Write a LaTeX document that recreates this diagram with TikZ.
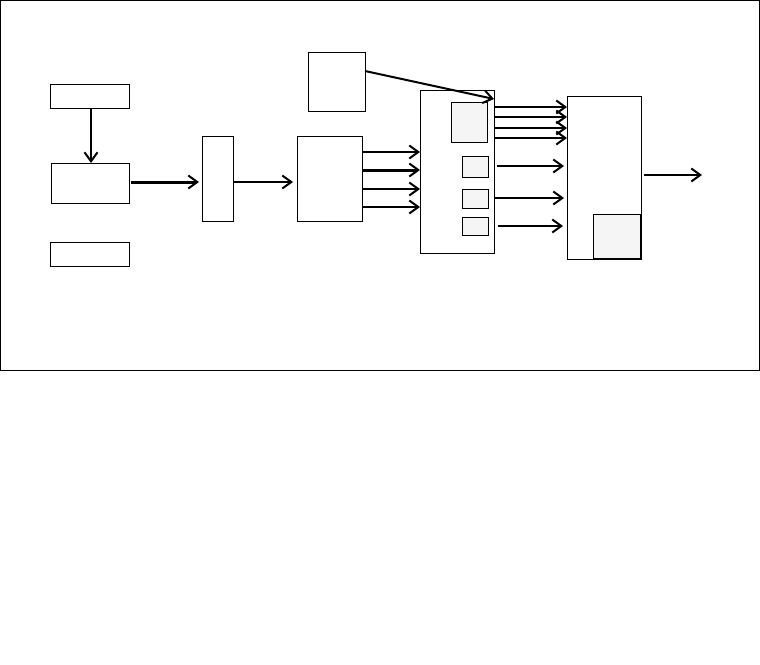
\documentclass[tikz,border=0pt]{standalone}
\usetikzlibrary{arrows.meta}
\tikzset{
 box/.style={draw,line width=1pt,inner sep=0pt,outer sep=0pt},
 sub/.style={box,fill=gray!8},
 arr/.style={line width=2pt,-{Straight Barb[length=9pt,width=13pt,line width=2pt]}},
 thickarr/.style={arr,line width=3pt}
}
\newcommand\mybox[6]{\node[#1,minimum width={#4pt-#2pt},minimum height={#5pt-#3pt}] (#6) at ({(#2+#4)/2},{(#3+#5)/2}) {};}
\begin{document}
\begin{tikzpicture}[x=1pt,y=-1pt]
\useasboundingbox (0,0) rectangle (760,664);
\fill[white] (0,0) rectangle (760,664);
\draw[line width=1pt] (0.5,0.5) rectangle (759.5,370);
\mybox{box}{50}{84}{129}{108}{A}
\mybox{box}{51}{163}{129}{203}{B}
\mybox{box}{50}{242}{129}{266}{C}
\mybox{box}{202}{136}{233}{221}{D}
\mybox{box}{297}{136}{362}{221}{E}
\mybox{box}{308}{52}{365}{111}{F}
\mybox{box}{420}{90}{494}{253}{G}
\mybox{sub}{451}{102}{487}{142}{g1}
\mybox{sub}{462}{156}{488}{177}{g2}
\mybox{sub}{462}{189}{488}{208}{g3}
\mybox{sub}{462}{217}{488}{235}{g4}
\mybox{box}{567}{96}{641}{259}{H}
\mybox{sub}{593}{214}{641}{259}{h1}
\draw[line width=1.5pt] (h1.north east) -- (h1.south east) -- (h1.south west);
\foreach \v in {71,99,107,117,128,138,152,166,170,175,182,189,198,207,226}
  \coordinate (y\v) at (0,\v);
\coordinate (x91) at (91,0);
\coordinate (out) at (702,175);
\draw[arr] (A.south -| x91) -- (B.north -| x91);
\draw[thickarr,shorten <=2pt,shorten >=3pt] (B.east |- y182) -- (D.west |- y182);
\draw[arr,shorten >=4pt] (D.east |- y182) -- (E.west |- y182);
\draw[arr] (F.east |- y71) -- (G.east |- y99);
\draw[arr] (E.east |- y152) -- (G.west |- y152);
\draw[thickarr] (E.east |- y170) -- (G.west |- y170);
\draw[arr] (E.east |- y189) -- (G.west |- y189);
\draw[arr] (E.east |- y207) -- (G.west |- y207);
\foreach \v in {107,117,128,138}
  \draw[arr] (G.east |- y\v) -- (H.west |- y\v);
\draw[arr,shorten <=3pt,shorten >=3pt] (G.east |- y166) -- (H.west |- y166);
\draw[arr,shorten >=3pt] (G.east |- y198) -- (H.west |- y198);
\draw[arr,shorten <=4pt,shorten >=4pt] (G.east |- y226) -- (H.west |- y226);
\draw[arr,shorten <=3pt] (H.east |- y175) -- (out);
\end{tikzpicture}
\end{document}
